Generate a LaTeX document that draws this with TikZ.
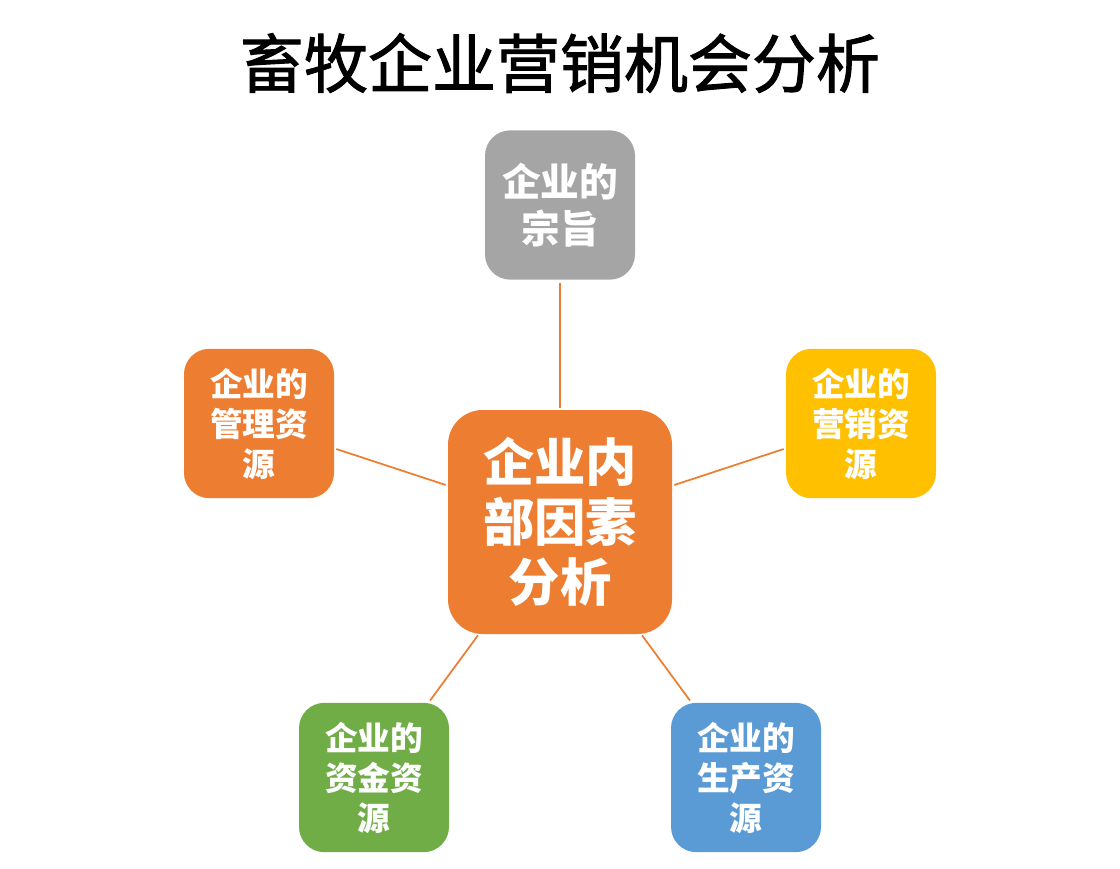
\documentclass[tikz,border=0pt]{standalone}
\usepackage{fontspec}
\newfontfamily\cjk{Noto Sans CJK SC}
\newfontfamily\cjkt[FakeBold=1.5]{Noto Sans CJK SC}
\usetikzlibrary{calc}
\definecolor{cgray}{HTML}{A5A5A5}
\definecolor{corange}{HTML}{ED7D31}
\definecolor{cyellow}{HTML}{FFC000}
\definecolor{cgreen}{HTML}{70AD47}
\definecolor{cblue}{HTML}{5B9BD5}
\tikzset{
  sbox/.style={rectangle, rounded corners=19pt, minimum width=112.5pt, minimum height=112pt, inner sep=0pt, text=white, align=center, font=\cjk\bfseries\fontsize{24.5pt}{30pt}\selectfont},
  cbox/.style={rectangle, rounded corners=26pt, minimum width=168pt, minimum height=168pt, inner sep=0pt, fill=corange, text=white, align=center, font=\cjk\bfseries\fontsize{38.5pt}{45pt}\selectfont},
  conn/.style={draw=corange, line width=1.3pt},
}
\begin{document}
\begin{tikzpicture}[x=0.75pt, y=-0.75pt]
\useasboundingbox (0,0) rectangle (1120,868);
\node[font=\cjkt\fontsize{48pt}{50pt}\selectfont] (title) at (560,63) {畜牧企业营销机会分析};
\node[cbox] (C) at (560,522) {企业内\\部因素\\分析};
\node[sbox, fill=cgray, font=\cjk\bfseries\fontsize{29pt}{35pt}\selectfont] (T) at (560,205) {企业的\\宗旨};
\node[sbox, fill=corange] (L) at (259,423.5) {企业的\\管理资\\源};
\node[sbox, fill=cyellow] (R) at (861,423.5) {企业的\\营销资\\源};
\node[sbox, fill=cgreen] (G) at (374,777.5) {企业的\\资金资\\源};
\node[sbox, fill=cblue] (B) at (746,777.5) {企业的\\生产资\\源};
\draw[conn] ($(T.south)+(0,3)$) -- ($(C.north)+(0,-2)$);
\draw[conn] ($(L.east)+(2,25.5)$) -- ($(C.west)+(-2,-37)$);
\draw[conn] ($(C.east)+(2,-37)$) -- ($(R.west)+(-2,25.5)$);
\draw[conn] ($(C.south)+(-82,1)$) -- ($(G.north)+(56,-2)$);
\draw[conn] ($(C.south)+(82,1)$) -- ($(B.north)+(-56,-2)$);
\end{tikzpicture}
\end{document}
